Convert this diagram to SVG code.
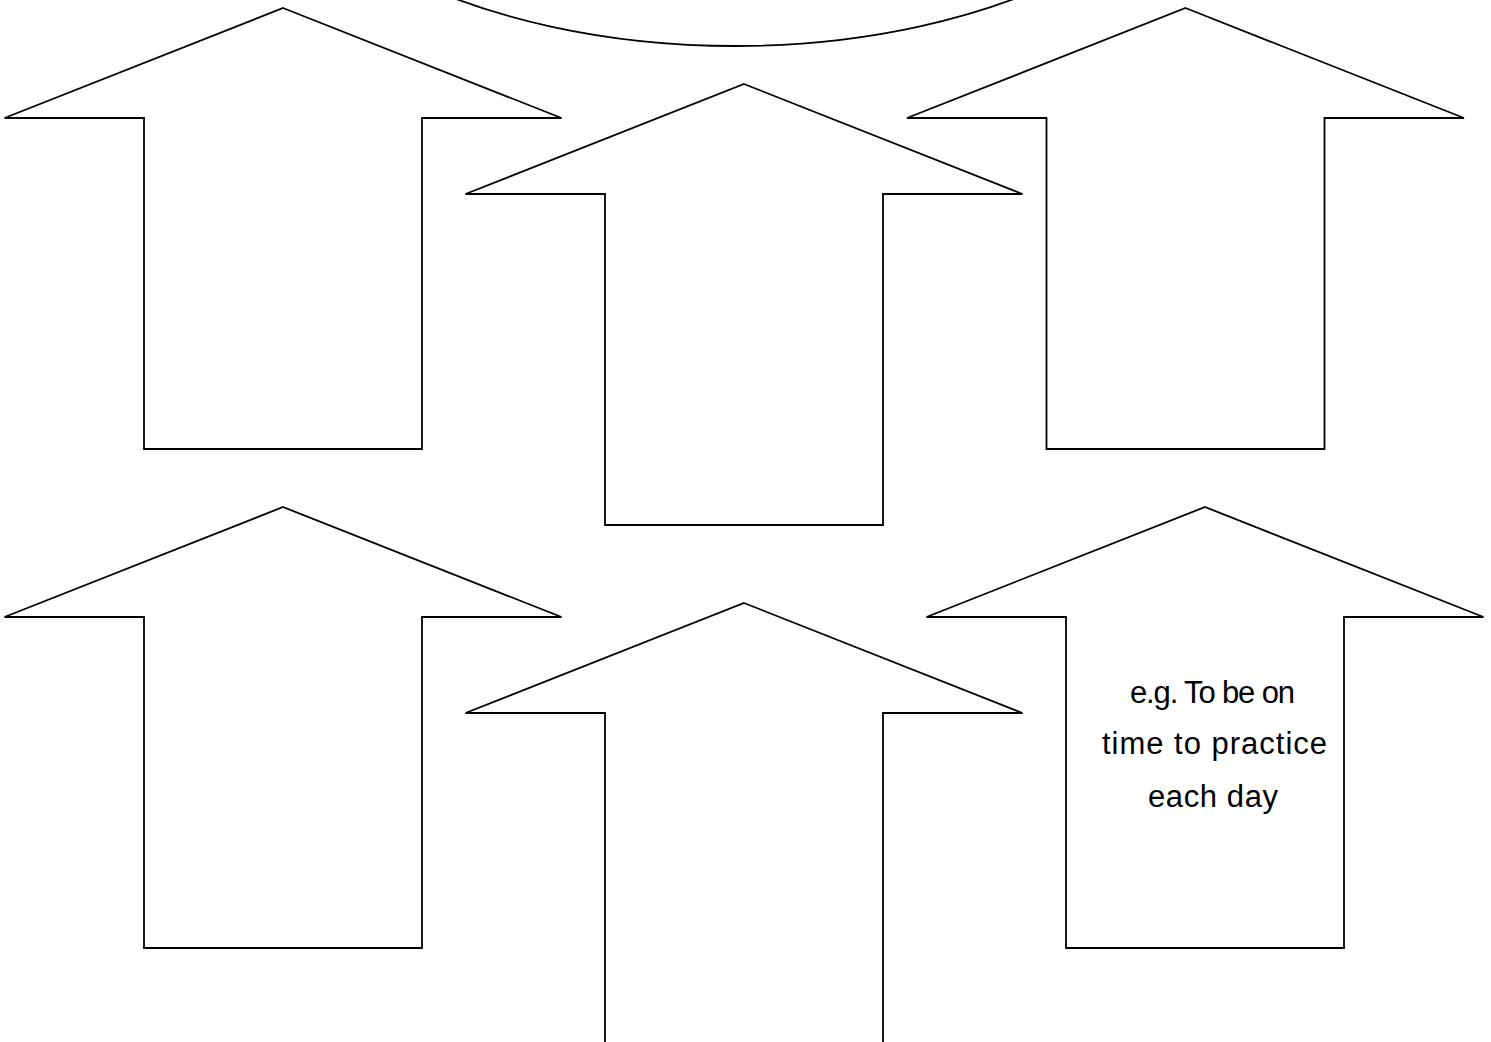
<svg xmlns="http://www.w3.org/2000/svg" width="1491" height="1042" viewBox="0 0 1491 1042">
<style>
.arrow{fill:#fff;stroke:#000;stroke-width:1.8;stroke-linejoin:miter}
.lbl{font-family:"Liberation Sans",Arial,sans-serif;font-size:31px;fill:#000;text-anchor:start}
</style>
<defs>
<path id="up" d="M0,0 L278.5,110 L139,110 L139,441 L-139,441 L-139,110 L-278.5,110 Z"/>
</defs>
<rect width="1491" height="1042" fill="#fff"/>
<g id="ellipse-top">
<ellipse cx="735" cy="-231" rx="500" ry="277" fill="none" stroke="#000" stroke-width="1.8"/>
</g>
<g id="arrow1"><use href="#up" class="arrow" x="283" y="8"/></g>
<g id="arrow2"><use href="#up" class="arrow" x="744" y="84"/></g>
<g id="arrow3"><use href="#up" class="arrow" x="1185.5" y="8"/></g>
<g id="arrow4"><use href="#up" class="arrow" x="283" y="507"/></g>
<g id="arrow5"><use href="#up" class="arrow" x="744" y="603"/></g>
<g id="arrow6"><use href="#up" class="arrow" x="1205" y="507"/>
<text class="lbl" x="1130" y="703" textLength="165" lengthAdjust="spacing">e.g. To be on</text>
<text class="lbl" x="1102" y="754" textLength="225" lengthAdjust="spacing">time to practice</text>
<text class="lbl" x="1148" y="807" textLength="130" lengthAdjust="spacing">each day</text>
</g>
<g id="connectors"/>
</svg>
